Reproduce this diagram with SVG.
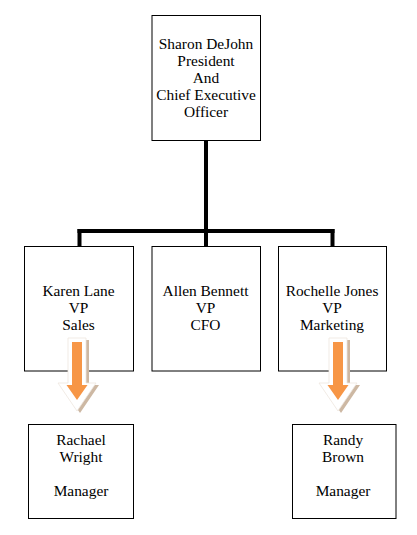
<svg xmlns="http://www.w3.org/2000/svg" width="417" height="535" viewBox="0 0 417 535">
<defs>
<style>
.box{fill:#fff;stroke:#000;stroke-width:1}
.t{font-size:15.4px;fill:#000;text-anchor:middle}
.con{stroke:#000;stroke-width:4;fill:none}
.sh{fill:#cdb8a3}
.outer{fill:#fff;stroke:#eee6de;stroke-width:0.8}
.inner{fill:#f79646}
</style>
<g id="downArrow">
<polygon class="sh" points="-6,1 12,1 12,46 22,46 3,74 -16,46 -6,46"/>
<polygon class="outer" points="-9,-1 9,-1 9,44 19,44 0,72 -19,44 -9,44"/>
<polygon class="inner" points="-5,3 5,3 5,46 10.5,46 0,61 -10.5,46 -5,46"/>
</g>
</defs>
<rect width="417" height="535" fill="#fff"/>
<g id="connectors">
<line class="con" x1="206" y1="140" x2="206" y2="231"/>
<line class="con" x1="77.5" y1="231" x2="334.5" y2="231"/>
<line class="con" x1="79.5" y1="229" x2="79.5" y2="247"/>
<line class="con" x1="206" y1="229" x2="206" y2="247"/>
<line class="con" x1="332.5" y1="229" x2="332.5" y2="247"/>
</g>
<g font-family="Liberation Serif, serif">
<g id="ceo">
<rect class="box" x="152" y="15.5" width="108.5" height="125"/>
<text class="t" x="206" y="48.5">Sharon DeJohn</text>
<text class="t" x="206" y="65.6">President</text>
<text class="t" x="206" y="82.7">And</text>
<text class="t" x="206" y="99.8">Chief Executive</text>
<text class="t" x="206" y="116.9">Officer</text>
</g>
<g id="karen">
<rect class="box" x="24.5" y="246.5" width="109" height="124.5"/>
<text class="t" x="78.5" y="295.7">Karen Lane</text>
<text class="t" x="78.5" y="312.7">VP</text>
<text class="t" x="78.5" y="329.7">Sales</text>
</g>
<g id="allen">
<rect class="box" x="152" y="246.5" width="108.5" height="124.5"/>
<text class="t" x="205.5" y="295.7">Allen Bennett</text>
<text class="t" x="205.5" y="312.7">VP</text>
<text class="t" x="205.5" y="329.7">CFO</text>
</g>
<g id="rochelle">
<rect class="box" x="278.5" y="246.5" width="108" height="124.5"/>
<text class="t" x="332" y="295.7">Rochelle Jones</text>
<text class="t" x="332" y="312.7">VP</text>
<text class="t" x="332" y="329.7">Marketing</text>
</g>
<g id="rachael">
<rect class="box" x="28.5" y="424.5" width="105" height="94"/>
<text class="t" x="81" y="445">Rachael</text>
<text class="t" x="81" y="462">Wright</text>
<text class="t" x="81" y="496">Manager</text>
</g>
<g id="randy">
<rect class="box" x="292.5" y="424.5" width="103.5" height="94"/>
<text class="t" x="343" y="445">Randy</text>
<text class="t" x="343" y="462">Brown</text>
<text class="t" x="343" y="496">Manager</text>
</g>
</g>
<g id="arrows">
<use href="#downArrow" x="77" y="339"/>
<use href="#downArrow" x="338" y="339"/>
</g>
</svg>
